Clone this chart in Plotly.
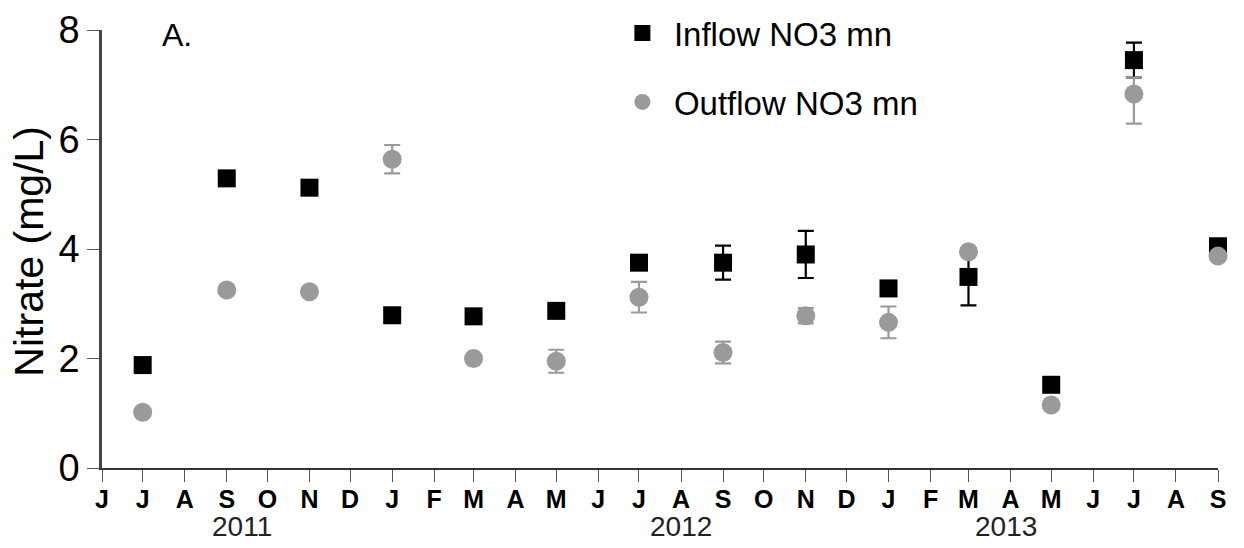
import plotly.graph_objects as go
import pandas as pd

# ---- data ----
sample_months = ["2011-07-01", "2011-09-01", "2011-11-01", "2012-01-01", "2012-03-01",
                 "2012-05-01", "2012-07-01", "2012-09-01", "2012-11-01", "2013-01-01",
                 "2013-03-01", "2013-05-01", "2013-07-01", "2013-09-01"]
inflow_mean = [1.88, 5.29, 5.12, 2.79, 2.77, 2.87, 3.75, 3.75, 3.90, 3.28, 3.49, 1.52, 7.45, 4.05]
inflow_err = [0.03, 0.03, 0.03, 0.05, 0.03, 0.05, 0.08, 0.31, 0.43, 0.12, 0.52, 0.05, 0.32, 0.05]
outflow_mean = [1.02, 3.25, 3.22, 5.64, 2.00, 1.95, 3.12, 2.11, 2.78, 2.66, 3.95, 1.15, 6.83, 3.87]
outflow_err_plus = [0.03, 0.05, 0.05, 0.26, 0.05, 0.21, 0.28, 0.20, 0.14, 0.29, 0.05, 0.05, 0.30, 0.05]
outflow_err_minus = [0.03, 0.05, 0.05, 0.26, 0.05, 0.21, 0.28, 0.20, 0.14, 0.29, 0.05, 0.05, 0.54, 0.05]

month_letters = ["J", "J", "A", "S", "O", "N", "D", "J", "F", "M", "A", "M", "J",
                 "J", "A", "S", "O", "N", "D", "J", "F", "M", "A", "M", "J", "J", "A", "S"]
year_labels = ["2011", "2012", "2013"]
year_label_pos = ["2011-09-12", "2012-08-01", "2013-03-29"]

axis_start = "2011-06-01"
axis_end = "2013-09-01"
tick_dates = pd.date_range(axis_start, axis_end, freq="MS")

FONT = "Liberation Sans, Arial, Helvetica, sans-serif"
GRAY = "#9a9a9a"

fig = go.Figure()
fig.add_trace(go.Scatter(
    x=sample_months, y=inflow_mean, mode="markers", name="Inflow NO3 mn",
    marker=dict(symbol="square", size=18, color="black"),
    error_y=dict(type="data", array=inflow_err, visible=True, color="black",
                 thickness=2.2, width=8),
    cliponaxis=False, legendgroup="a",
))
fig.add_trace(go.Scatter(
    x=sample_months, y=outflow_mean, mode="markers", name="Outflow NO3 mn",
    marker=dict(symbol="circle", size=19, color=GRAY),
    error_y=dict(type="data", array=outflow_err_plus, arrayminus=outflow_err_minus,
                 symmetric=False, visible=True, color=GRAY, thickness=2.2, width=8),
    cliponaxis=False, legendgroup="b",
))

annotations = [
    dict(text="A.", x=0.052, y=1.0, xref="paper", yref="paper", xanchor="left",
         yanchor="middle", yshift=-5, showarrow=False, font=dict(size=32, color="black", family=FONT)),
    dict(text="Nitrate (mg/L)", x=0, y=0.494, xref="paper", yref="paper", xanchor="center",
         yanchor="middle", xshift=-73, textangle=-90, showarrow=False,
         font=dict(size=41, color="black", family=FONT)),
]
for lab, pos in zip(year_labels, year_label_pos):
    annotations.append(dict(text=lab, x=pos, y=0, xref="x", yref="paper", xanchor="center",
                            yanchor="middle", yshift=-58, showarrow=False,
                            font=dict(size=28, color="#222", family=FONT)))

# the page body adds an 8px offset, so the figure is 8px smaller than the window
fig.update_layout(
    width=1236, height=540,
    margin=dict(l=94, r=26, t=22, b=80, autoexpand=False),
    paper_bgcolor="white", plot_bgcolor="white",
    font=dict(family=FONT, color="black"),
    showlegend=True,
    legend=dict(x=0.456, y=1.057, xanchor="left", yanchor="top", bgcolor="rgba(0,0,0,0)",
                font=dict(size=33, color="black", family=FONT), tracegroupgap=23,
                itemwidth=53),
    annotations=annotations,
)
fig.update_xaxes(
    type="date", range=[axis_start, axis_end],
    tickmode="array", tickvals=tick_dates, ticktext=month_letters,
    showline=True, linecolor="#333", linewidth=2,
    ticks="outside", ticklen=12, tickwidth=1.2, tickcolor="#555",
    tickfont=dict(size=25, color="black", family=FONT, weight="bold"),
    ticklabelstandoff=-4,
    showgrid=False, zeroline=False, tickangle=0, automargin=False,
)
fig.update_yaxes(
    range=[0, 8], tickvals=[0, 2, 4, 6, 8],
    showline=True, linecolor="#444", linewidth=2.5,
    ticks="outside", ticklen=12, tickwidth=1.2, tickcolor="#555",
    tickfont=dict(size=38, color="black", family=FONT),
    showgrid=False, zeroline=False, automargin=False,
)

fig.write_html("out.html")
